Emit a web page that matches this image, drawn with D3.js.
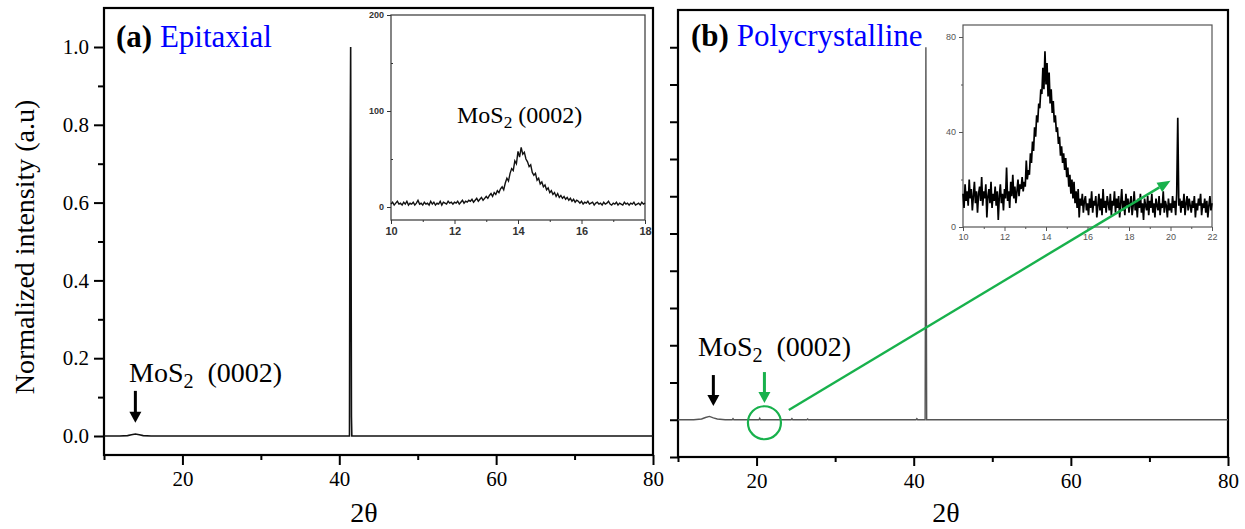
<!DOCTYPE html>
<html><head><meta charset="utf-8">
<script src="https://cdn.jsdelivr.net/npm/d3@7"></script>
<style>body{margin:0;background:#fff}svg{display:block;background:#fff}</style>
</head><body><svg id="c" width="1245" height="529"></svg>
<script>
// ---------- data ----------
const mainXTicks = [20, 40, 60, 80];
const mainXMinor = [10, 30, 50, 70];
const yTicksA = [0, 0.2, 0.4, 0.6, 0.8, 1.0];
const yMinorA = [0.1, 0.3, 0.5, 0.7, 0.9];
const yTicksB = [-0.1, 0, 0.1, 0.2, 0.3, 0.4, 0.5, 0.6, 0.7, 0.8, 0.9, 1.0];

// main pattern (a) epitaxial: 2theta, normalized intensity
const specA_x = [10, 12, 13, 13.5, 14, 14.5, 15, 16, 41.3, 41.36, 41.45, 41.55, 41.6, 80];
const specA_y = [0, 0, 0.001, 0.003, 0.005, 0.003, 0.001, 0, 0, 0.62, 1.0, 0.05, 0, 0];

// main pattern (b) polycrystalline
const specB_x = [10, 12, 13, 13.5, 14, 14.5, 15, 16, 16.9, 17, 17.1, 20.3, 20.4, 20.5, 24.4, 24.5, 24.6, 26.4, 26.5, 26.6, 40.3, 40.4, 40.5, 41.45, 41.5, 41.55, 41.6, 41.65, 80];
const specB_y = [0, 0, 0.002, 0.006, 0.009, 0.005, 0.002, 0, 0, 0.003, 0, 0, 0.004, 0, 0, 0.003, 0, 0, 0.002, 0, 0, 0.003, 0, 0, 0.41, 1.0, 0.41, 0, 0];

// inset (a): 10..18 deg, step 0.05
const insetA_start = 10, insetA_step = 0.05;
const insetA_y = [
 3,5,2,4,6,3,4,2,5,3,
 6,2,4,3,5,2,4,7,3,4,
 2,5,3,4,2,6,3,5,2,4,
 3,6,2,5,4,3,6,4,5,3,
 5,4,6,3,5,7,4,6,5,7,
 6,8,5,7,9,6,8,10,7,9,
 11,9,12,14,11,15,13,17,15,19,
 21,18,25,30,27,35,40,38,48,45,
 58,52,62,55,57,50,47,42,44,36,
 33,35,28,30,24,26,21,23,18,20,
 15,17,13,15,11,14,10,12,9,11,
 8,10,7,9,6,8,5,7,6,4,
 6,3,5,4,6,3,4,5,2,4,
 5,3,4,2,5,3,4,6,3,2,
 4,3,5,2,4,3,2,5,3,4,
 2,4,3,5,2,3,4,2,5,3,
 4];
const insetA_xTicks = [10, 12, 14, 16, 18];
const insetA_yTicks = [0, 100, 200];

// inset (b): 10..22 deg, step 0.05
const insetB_start = 10, insetB_step = 0.05;
const insetB_y = [
 14,8,18,11,15,9,20,12,16,7,
 13,19,10,15,6,14,17,11,21,9,
 15,12,18,4,13,16,10,19,8,14,
 11,17,9,15,3,13,18,10,14,7,
 16,12,25,11,15,8,19,13,22,12,
 17,10,15,20,13,18,16,21,15,19,
 17,28,20,24,22,31,27,36,32,42,
 38,47,44,52,50,58,56,67,58,74,
 60,69,55,65,52,58,48,53,44,47,
 40,42,35,38,30,34,27,31,24,29,
 21,25,17,22,14,20,12,19,10,15,
 8,16,4,12,9,14,6,11,13,7,
 10,5,12,8,15,6,11,9,13,4,
 9,14,7,12,5,16,8,11,6,13,
 10,7,14,5,11,9,15,6,12,8,
 13,4,10,16,7,11,5,14,9,12,
 6,10,13,5,9,15,7,11,4,12,
 8,14,6,10,3,12,9,7,13,5,
 11,8,14,6,10,4,12,9,7,13,
 5,10,8,15,6,11,9,4,12,7,
 10,6,13,8,11,5,14,46,9,12,
 6,11,8,14,5,10,13,7,12,9,
 6,11,8,13,4,10,7,12,9,14,
 5,10,8,12,6,11,4,9,13,7,
 10];
const insetB_xTicks = [10, 12, 14, 16, 18, 20, 22];
const insetB_yTicks = [0, 40, 80];

// ---------- drawing ----------
const svg = d3.select('#c');
const SERIF = '"Liberation Serif","Times New Roman",serif';
const SANS = '"Liberation Sans",Arial,sans-serif';
const GREEN = '#18b14c';

function styleAxis(g, fs, family, color) {
  g.attr('font-family', null).attr('font-size', null);
  g.select('.domain').remove();
  g.selectAll('line').attr('stroke', color || '#000');
  g.selectAll('text').attr('font-family', family).attr('font-size', fs).attr('fill', color || '#000');
}

// ===== panel (a) =====
const xA = d3.scaleLinear().domain([10, 80]).range([104, 653]);
const yA = d3.scaleLinear().domain([0, 1]).range([436, 47]);
const A_top = 8, A_bot = 455;

svg.append('g').attr('transform', `translate(0,${A_bot})`)
  .call(d3.axisBottom(xA).tickValues(mainXMinor).tickSize(5).tickFormat(''))
  .call(g => { g.select('.domain').remove(); g.selectAll('line').attr('stroke', '#000').attr('stroke-width', 2); });
svg.append('g').attr('transform', `translate(0,${A_bot})`)
  .call(d3.axisBottom(xA).tickValues(mainXTicks).tickSize(10).tickPadding(6).tickFormat(d3.format('d')))
  .call(g => { styleAxis(g, 21, SERIF); g.selectAll('line').attr('stroke-width', 2); });
svg.append('g').attr('transform', `translate(104,0)`)
  .call(d3.axisLeft(yA).tickValues(yMinorA).tickSize(6).tickFormat(''))
  .call(g => { g.select('.domain').remove(); g.selectAll('line').attr('stroke', '#000').attr('stroke-width', 2); });
svg.append('g').attr('transform', `translate(104,0)`)
  .call(d3.axisLeft(yA).tickValues(yTicksA).tickSize(10).tickPadding(5).tickFormat(d3.format('.1f')))
  .call(g => { styleAxis(g, 21, SERIF); g.selectAll('line').attr('stroke-width', 2); });
svg.append('rect').attr('x', xA(10)).attr('y', A_top).attr('width', xA(80) - xA(10)).attr('height', A_bot - A_top)
  .attr('fill', 'none').attr('stroke', '#000').attr('stroke-width', 2.2);

const lineA = d3.line().x(d => xA(d[0])).y(d => yA(d[1]));
svg.append('path').datum(d3.zip(specA_x, specA_y)).attr('d', lineA)
  .attr('fill', 'none').attr('stroke', '#111').attr('stroke-width', 1.6);

// ===== panel (b) =====
const xB = d3.scaleLinear().domain([10, 80]).range([678, 1228]);
const yB = d3.scaleLinear().domain([-0.1, 1.1]).range([457, 10]);

svg.append('g').attr('transform', `translate(0,${yB(-0.1)})`)
  .call(d3.axisBottom(xB).tickValues(mainXMinor).tickSize(5).tickFormat(''))
  .call(g => { g.select('.domain').remove(); g.selectAll('line').attr('stroke', '#000').attr('stroke-width', 2); });
svg.append('g').attr('transform', `translate(0,${yB(-0.1)})`)
  .call(d3.axisBottom(xB).tickValues(mainXTicks).tickSize(9).tickPadding(7).tickFormat(d3.format('d')))
  .call(g => { styleAxis(g, 21, SERIF); g.selectAll('line').attr('stroke-width', 2); });
svg.append('g').attr('transform', `translate(${xB(10)},0)`)
  .call(d3.axisLeft(yB).tickValues(yTicksB).tickSize(8).tickFormat(''))
  .call(g => { g.select('.domain').remove(); g.selectAll('line').attr('stroke', '#000').attr('stroke-width', 2); });
svg.append('rect').attr('x', xB(10)).attr('y', yB(1.1)).attr('width', xB(80) - xB(10)).attr('height', yB(-0.1) - yB(1.1))
  .attr('fill', 'none').attr('stroke', '#000').attr('stroke-width', 2.2);

const lineB = d3.line().x(d => xB(d[0])).y(d => yB(d[1]));
svg.append('path').datum(d3.zip(specB_x, specB_y)).attr('d', lineB)
  .attr('fill', 'none').attr('stroke', '#555').attr('stroke-width', 1.4);

// ===== inset (a) =====
const xIa = d3.scaleLinear().domain([10, 18]).range([391, 645]);
const yIa = d3.scaleLinear().domain([0, 200]).range([207, 15]);
const Ia_bot = 220;
svg.append('rect').attr('x', xIa(10)).attr('y', yIa(200)).attr('width', xIa(18) - xIa(10)).attr('height', Ia_bot - yIa(200))
  .attr('fill', '#fff').attr('stroke', '#444').attr('stroke-width', 1.3);
svg.append('g').attr('transform', `translate(0,${Ia_bot})`)
  .call(d3.axisBottom(xIa).tickValues(d3.range(11, 18, 2)).tickSize(2).tickFormat(''))
  .call(g => styleAxis(g, 10, SANS, '#333'));
svg.append('g').attr('transform', `translate(0,${Ia_bot})`)
  .call(d3.axisBottom(xIa).tickValues(insetA_xTicks).tickSize(4).tickPadding(3))
  .call(g => { styleAxis(g, 11, SANS, '#333'); g.selectAll('text').attr('font-weight', 'bold'); });
svg.append('g').attr('transform', `translate(${xIa(10)},0)`)
  .call(d3.axisLeft(yIa).tickValues([50, 150]).tickSize(-2).tickFormat(''))
  .call(g => styleAxis(g, 10, SANS, '#333'));
svg.append('g').attr('transform', `translate(${xIa(10)},0)`)
  .call(d3.axisLeft(yIa).tickValues(insetA_yTicks).tickSize(4).tickPadding(3))
  .call(g => { styleAxis(g, 9, SANS, '#333'); g.selectAll('text').attr('font-weight', 'bold'); });
const insetA_pts = insetA_y.map((v, i) => [insetA_start + i * insetA_step, v]);
svg.append('path').datum(insetA_pts)
  .attr('d', d3.line().x(d => xIa(d[0])).y(d => yIa(d[1])))
  .attr('fill', 'none').attr('stroke', '#111').attr('stroke-width', 1.4);

// ===== inset (b) =====
const xIb = d3.scaleLinear().domain([10, 22]).range([963, 1212]);
const yIb = d3.scaleLinear().domain([0, 80]).range([227, 37]);
const Ib_top = 25;
svg.append('rect').attr('x', xIb(10)).attr('y', Ib_top).attr('width', xIb(22) - xIb(10)).attr('height', yIb(0) - Ib_top)
  .attr('fill', '#fff').attr('stroke', '#555').attr('stroke-width', 1.2);
svg.append('g').attr('transform', `translate(0,${yIb(0)})`)
  .call(d3.axisBottom(xIb).tickValues(d3.range(11, 22, 1).filter(v => v % 2 === 1)).tickSize(2).tickFormat(''))
  .call(g => styleAxis(g, 9, SANS, '#555'));
svg.append('g').attr('transform', `translate(0,${yIb(0)})`)
  .call(d3.axisBottom(xIb).tickValues(insetB_xTicks).tickSize(4).tickPadding(3))
  .call(g => styleAxis(g, 9, SANS, '#555'));
svg.append('g').attr('transform', `translate(${xIb(10)},0)`)
  .call(d3.axisLeft(yIb).tickValues([20, 60]).tickSize(2).tickFormat(''))
  .call(g => styleAxis(g, 9, SANS, '#555'));
svg.append('g').attr('transform', `translate(${xIb(10)},0)`)
  .call(d3.axisLeft(yIb).tickValues(insetB_yTicks).tickSize(4).tickPadding(3))
  .call(g => styleAxis(g, 9, SANS, '#555'));
const insetB_pts = insetB_y.map((v, i) => [insetB_start + i * insetB_step, v]);
svg.append('path').datum(insetB_pts)
  .attr('d', d3.line().x(d => xIb(d[0])).y(d => yIb(d[1])))
  .attr('fill', 'none').attr('stroke', '#000').attr('stroke-width', 1.7);

// ===== texts =====
function title(x, y, tag, word) {
  const t = svg.append('text').attr('x', x).attr('y', y).attr('font-family', SERIF).attr('font-size', 31);
  t.append('tspan').attr('font-weight', 'bold').attr('fill', '#000').text(tag);
  t.append('tspan').attr('fill', '#0000ff').text('\u00a0' + word);
}
title(116, 47, '(a)', 'Epitaxial');
title(691, 46, '(b)', 'Polycrystalline');

function mos(x, y, fs, sub, gap) {
  const t = svg.append('text').attr('x', x).attr('y', y).attr('font-family', SERIF).attr('font-size', fs).attr('fill', '#000');
  t.append('tspan').text('MoS');
  t.append('tspan').attr('font-size', fs * 0.72).attr('dy', sub).text('2');
  t.append('tspan').attr('dy', -sub).text(gap + '(0002)');
}
mos(129, 382, 28, 6, '\u00a0\u00a0');
mos(698, 356, 28, 6, '\u00a0\u00a0');
mos(457, 123, 24, 5, '\u00a0');

// axis titles
svg.append('text').attr('transform', 'translate(34,247) rotate(-90)').attr('text-anchor', 'middle')
  .attr('font-family', SERIF).attr('font-size', 28).attr('fill', '#000').text('Normalized intensity (a.u)');
svg.append('text').attr('x', 364).attr('y', 522).attr('text-anchor', 'middle')
  .attr('font-family', SERIF).attr('font-size', 28).attr('fill', '#000').text('2\u03b8');
svg.append('text').attr('x', 946).attr('y', 522).attr('text-anchor', 'middle')
  .attr('font-family', SERIF).attr('font-size', 28).attr('fill', '#000').text('2\u03b8');

// ===== arrows & annotations =====
function downArrow(x, y1, y2, color) {
  svg.append('line').attr('x1', x).attr('x2', x).attr('y1', y1).attr('y2', y2 - 9)
    .attr('stroke', color).attr('stroke-width', 3);
  svg.append('path').attr('d', `M${x - 6},${y2 - 11} L${x + 6},${y2 - 11} L${x},${y2} Z`).attr('fill', color);
}
downArrow(xA(14), yA(0.116), yA(0.034), '#000');
downArrow(xB(14.5), yB(0.12), yB(0.037), '#000');
downArrow(xB(21), yB(0.128), yB(0.045), GREEN);

svg.append('circle').attr('cx', xB(21)).attr('cy', yB(-0.008)).attr('r', 16.5)
  .attr('fill', 'none').attr('stroke', GREEN).attr('stroke-width', 2.2);

// pointer line from circle to inset (b)
const p0 = [xB(24.1), yB(0.026)];
const p1 = [xIb(20.0), yIb(19.5)];
const ang = Math.atan2(p1[1] - p0[1], p1[0] - p0[0]);
const hl = 13, hw = 5.5;
const base = [p1[0] - hl * Math.cos(ang), p1[1] - hl * Math.sin(ang)];
svg.append('line').attr('x1', p0[0]).attr('y1', p0[1]).attr('x2', base[0]).attr('y2', base[1])
  .attr('stroke', GREEN).attr('stroke-width', 2.4);
svg.append('path').attr('d', `M${p1[0]},${p1[1]} L${base[0] + hw * Math.sin(ang)},${base[1] - hw * Math.cos(ang)} L${base[0] - hw * Math.sin(ang)},${base[1] + hw * Math.cos(ang)} Z`)
  .attr('fill', GREEN);
</script>
</body></html>
